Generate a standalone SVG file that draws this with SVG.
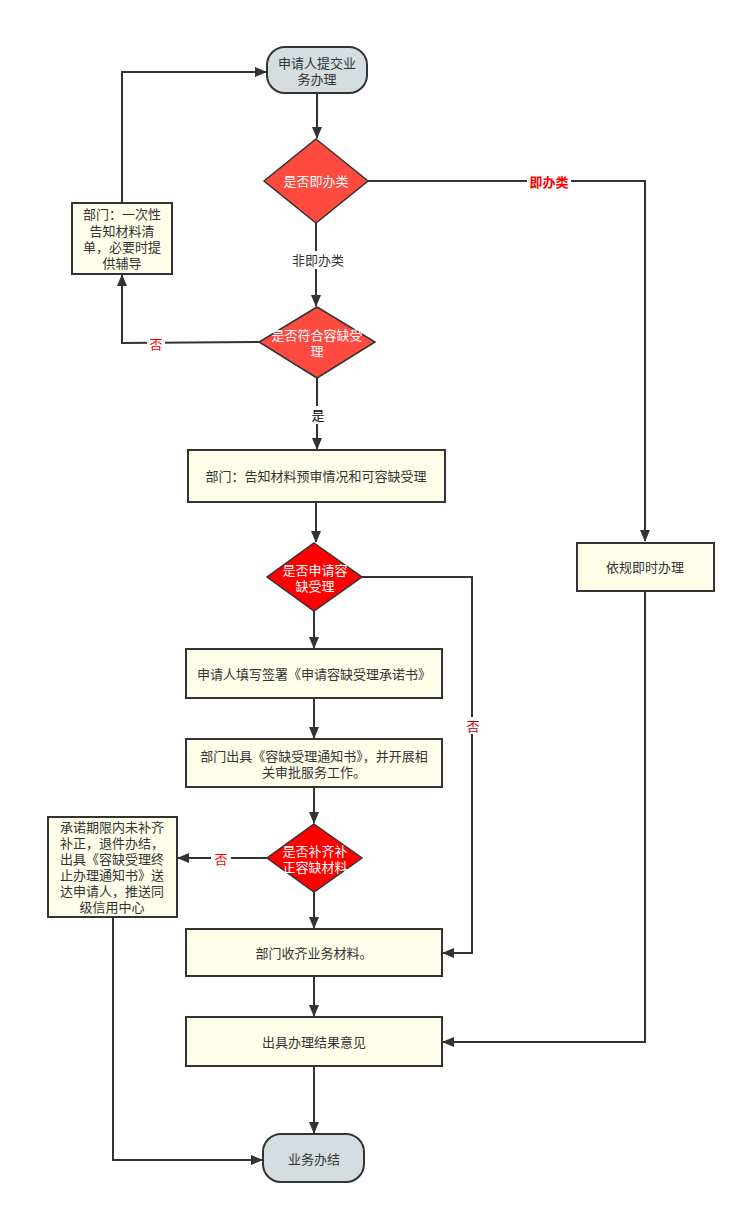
<svg xmlns="http://www.w3.org/2000/svg" width="745" height="1214" viewBox="0 0 745 1214">
<style>
.t{font-family:"Noto Sans CJK SC","Liberation Sans",sans-serif;font-size:13px;fill:#333;text-anchor:middle}
.w{fill:#fff}
.box{fill:#fefeea;stroke:#333;stroke-width:2}
.term{fill:#d5dde0;stroke:#333;stroke-width:2}
.d1{fill:#ff4a3f;stroke:#333;stroke-width:1.5}
.d2{fill:#ff0000;stroke:#333;stroke-width:1.5}
.c{fill:none;stroke:#333;stroke-width:2}
.lbl{font-family:"Noto Sans CJK SC","Liberation Sans",sans-serif;font-size:13px;text-anchor:middle}
</style>
<defs>
<marker id="a" markerWidth="12" markerHeight="10" refX="11" refY="5" orient="auto" markerUnits="userSpaceOnUse">
<path d="M0,0 L12,5 L0,10 Z" fill="#333"/>
</marker>
</defs>
<rect width="745" height="1214" fill="#fff"/>
<g id="connectors">
<path class="c" d="M317,93 V138" marker-end="url(#a)"/>
<path class="c" d="M316,223 V306" marker-end="url(#a)"/>
<path class="c" d="M259,342 L122,343 V275" marker-end="url(#a)"/>
<path class="c" d="M122,203 V72 H266" marker-end="url(#a)"/>
<path class="c" d="M317,378 V449" marker-end="url(#a)"/>
<path class="c" d="M316,502 V542" marker-end="url(#a)"/>
<path class="c" d="M368,181 H645 V541" marker-end="url(#a)"/>
<path class="c" d="M314,611 V648" marker-end="url(#a)"/>
<path class="c" d="M362,577 H472 V953 H443" marker-end="url(#a)"/>
<path class="c" d="M314,698 V738" marker-end="url(#a)"/>
<path class="c" d="M314,787 V823" marker-end="url(#a)"/>
<path class="c" d="M267,858 H178" marker-end="url(#a)"/>
<path class="c" d="M314,892 V928" marker-end="url(#a)"/>
<path class="c" d="M314,976 V1016" marker-end="url(#a)"/>
<path class="c" d="M645,591 V1042 H443" marker-end="url(#a)"/>
<path class="c" d="M314,1066 V1133" marker-end="url(#a)"/>
<path class="c" d="M113,917 V1160 H262" marker-end="url(#a)"/>
<rect x="286" y="251" width="62" height="18" fill="#fff"/>
<text class="t" x="318" y="265">非即办类</text>
<rect x="527" y="173" width="44" height="17" fill="#fff"/>
<text class="lbl" x="549" y="187" fill="#ff0000" font-weight="bold">即办类</text>
<rect x="147" y="336" width="18" height="16" fill="#fff"/>
<text class="lbl" x="156" y="349" fill="#ff0000">否</text>
<rect x="308" y="406" width="20" height="18" fill="#fff"/>
<text class="lbl" x="318" y="420" fill="#000">是</text>
<rect x="464" y="717" width="18" height="17" fill="#fff"/>
<text class="lbl" x="473" y="731" fill="#c00000">否</text>
<rect x="211" y="851" width="20" height="16" fill="#fff"/>
<text class="lbl" x="221" y="864" fill="#ff0000">否</text>
</g>
<g id="start">
<rect class="term" x="267" y="47" width="100" height="46" rx="18"/>
<text class="t" x="317" y="68">申请人提交业</text>
<text class="t" x="317" y="84">务办理</text>
</g>
<g id="d-instant">
<polygon class="d1" points="316,139 368,181 316,223 264,181"/>
<text class="t w" x="316" y="186">是否即办类</text>
</g>
<g id="d-accept">
<polygon class="d1" points="317,307 375,342 317,378 259,342"/>
<text class="t w" x="317" y="340">是否符合容缺受</text>
<text class="t w" x="317" y="356">理</text>
</g>
<g id="n-guide">
<rect class="box" x="72" y="203" width="100" height="71"/>
<text class="t" x="122" y="219">部门：一次性</text>
<text class="t" x="122" y="236">告知材料清</text>
<text class="t" x="122" y="252">单，必要时提</text>
<text class="t" x="122" y="268">供辅导</text>
</g>
<g id="n-pre">
<rect class="box" x="188" y="450" width="257" height="52"/>
<text class="t" x="316" y="481">部门：告知材料预审情况和可容缺受理</text>
</g>
<g id="d-apply">
<polygon class="d2" points="314,543 362,577 314,611 267,577"/>
<text class="t w" x="315" y="575">是否申请容</text>
<text class="t w" x="315" y="591">缺受理</text>
</g>
<g id="n-sign">
<rect class="box" x="186" y="649" width="256" height="49"/>
<text class="t" x="314" y="679">申请人填写签署《申请容缺受理承诺书》</text>
</g>
<g id="n-notice">
<rect class="box" x="186" y="739" width="256" height="48"/>
<text class="t" x="314" y="761">部门出具《容缺受理通知书》，并开展相</text>
<text class="t" x="314" y="777">关审批服务工作。</text>
</g>
<g id="d-supp">
<polygon class="d2" points="314,824 362,858 314,892 267,858"/>
<text class="t w" x="315" y="856">是否补齐补</text>
<text class="t w" x="315" y="872">正容缺材料</text>
</g>
<g id="n-terminate">
<rect class="box" x="48" y="817" width="129" height="100"/>
<text class="t" x="112" y="832">承诺期限内未补齐</text>
<text class="t" x="112" y="848">补正，退件办结，</text>
<text class="t" x="112" y="864">出具《容缺受理终</text>
<text class="t" x="112" y="880">止办理通知书》送</text>
<text class="t" x="112" y="896">达申请人，推送同</text>
<text class="t" x="112" y="912">级信用中心</text>
</g>
<g id="n-instant">
<rect class="box" x="577" y="543" width="137" height="48"/>
<text class="t" x="645" y="572">依规即时办理</text>
</g>
<g id="n-collect">
<rect class="box" x="186" y="929" width="256" height="47"/>
<text class="t" x="314" y="958">部门收齐业务材料。</text>
</g>
<g id="n-result">
<rect class="box" x="186" y="1017" width="256" height="49"/>
<text class="t" x="314" y="1047">出具办理结果意见</text>
</g>
<g id="end">
<rect class="term" x="263" y="1134" width="101" height="48" rx="18"/>
<text class="t" x="314" y="1164">业务办结</text>
</g>
</svg>
